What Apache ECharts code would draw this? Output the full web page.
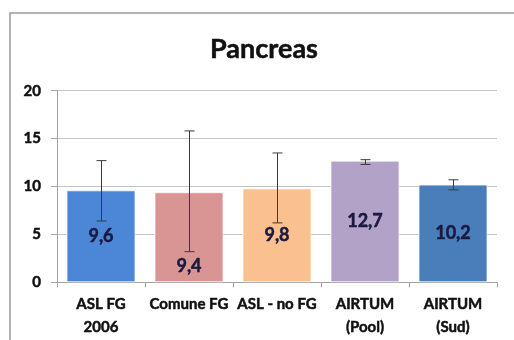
<!DOCTYPE html>
<html><head><meta charset="utf-8">
<script src="https://cdn.jsdelivr.net/npm/echarts@6/dist/echarts.min.js"></script>
<style>html,body{margin:0;padding:0;background:#fff}#c{width:514px;height:340px}</style>
</head><body><div id="c"></div>
<script>
const categories = ['ASL FG\n2006', 'Comune FG', 'ASL - no FG', 'AIRTUM\n(Pool)', 'AIRTUM\n(Sud)'];
const values = [9.6, 9.4, 9.8, 12.7, 10.2];
const errLow = [6.4, 3.2, 6.2, 12.3, 9.65];
const errHigh = [12.7, 15.8, 13.5, 12.8, 10.7];
const colors = ['#4C86D7', '#D99594', '#FAC08F', '#B3A2C7', '#4A7EBB'];
const yTicks = [0, 5, 10, 15, 20];
const labelOffsets = [[0, 0], [0, 29], [0, 0], [0, 0], [0, 0]];

const chart = echarts.init(document.getElementById('c'), null, {renderer: 'canvas'});
const font = 'Lato, "Open Sans", sans-serif';
const thick = c => ({textBorderColor: c, textBorderWidth: 0.5});
chart.setOption({
  animation: false,
  title: {
    text: 'Pancreas', left: 259, top: 31, textAlign: 'center',
    textStyle: Object.assign({fontFamily: font, fontWeight: 'bold', fontSize: 27, color: '#111'}, thick('#111'))
  },
  graphic: [{
    type: 'rect', shape: {x: 10, y: 13, width: 540, height: 360},
    style: {fill: 'none', stroke: '#9a9a9a', lineWidth: 1.5}, silent: true
  }],
  grid: {left: 57, right: 17, top: 90.7, bottom: 57.7},
  xAxis: {
    type: 'category', data: categories,
    axisLine: {lineStyle: {color: '#a0a0a0', width: 1}},
    axisTick: {show: true, alignWithLabel: false, length: 5, lineStyle: {color: '#a0a0a0'}},
    axisLabel: Object.assign({fontFamily: font, fontWeight: 'bold', fontSize: 15, color: '#111', lineHeight: 23, margin: 10, interval: 0}, thick('#111'))
  },
  yAxis: {
    type: 'value', min: yTicks[0], max: yTicks[yTicks.length - 1], interval: 5,
    axisLine: {show: true, lineStyle: {color: '#a0a0a0'}},
    axisTick: {show: true, length: 6, lineStyle: {color: '#a0a0a0'}},
    axisLabel: Object.assign({fontFamily: font, fontWeight: 'bold', fontSize: 15, color: '#111', margin: 16}, thick('#111')),
    splitLine: {lineStyle: {color: '#c4c4c4'}}
  },
  series: [{
    type: 'bar', barWidth: 69,
    data: values.map((v, i) => ({
      value: v,
      itemStyle: {color: colors[i], borderColor: 'rgba(255,255,255,0.7)', borderWidth: 1},
      label: {offset: labelOffsets[i]}
    })),
    label: Object.assign({
      show: true, position: 'inside',
      formatter: p => p.value.toFixed(1).replace('.', ','),
      fontFamily: font, fontWeight: 'bold', fontSize: 18, color: '#1a1a40'
    }, thick('#1a1a40')),
    z: 2
  }, {
    type: 'custom',
    data: values.map((v, i) => [i, errLow[i], errHigh[i]]),
    renderItem: (params, api) => {
      const i = api.value(0);
      const lo = api.coord([i, api.value(1)]);
      const hi = api.coord([i, api.value(2)]);
      const x = Math.round(lo[0]) + 0.5;
      const hw = 5;
      const st = {stroke: '#3a3a3a', lineWidth: 1};
      return {type: 'group', children: [
        {type: 'line', shape: {x1: x, y1: lo[1], x2: x, y2: hi[1]}, style: st},
        {type: 'line', shape: {x1: x - hw, y1: lo[1], x2: x + hw, y2: lo[1]}, style: st},
        {type: 'line', shape: {x1: x - hw, y1: hi[1], x2: x + hw, y2: hi[1]}, style: st}
      ]};
    },
    z: 5
  }]
});
</script></body></html>
